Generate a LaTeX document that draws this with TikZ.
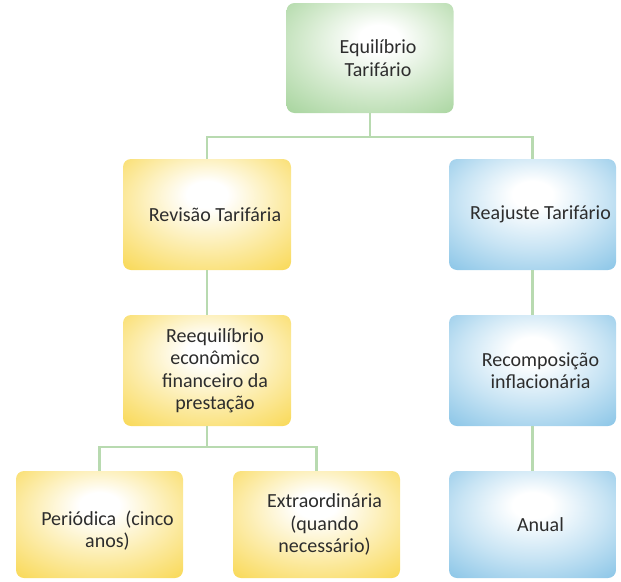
\documentclass[tikz,border=0pt]{standalone}
\usepackage{fontspec}
\setmainfont{Carlito}
\definecolor{ylwc}{RGB}{248,212,66}
\definecolor{ylwm}{RGB}{252,236,170}
\definecolor{grnc}{RGB}{158,208,148}
\definecolor{grnm}{RGB}{212,234,206}
\definecolor{bluc}{RGB}{124,190,228}
\definecolor{blum}{RGB}{200,228,244}
\definecolor{linec}{RGB}{184,218,176}
\definecolor{txtc}{RGB}{45,45,45}
\pgfdeclareradialshading{ylwshade}{\pgfpoint{0bp}{10bp}}{color(0bp)=(white); color(6bp)=(white); color(22bp)=(ylwm); color(42bp)=(ylwc); color(60bp)=(ylwc)}
\pgfdeclareradialshading{grnshade}{\pgfpoint{3bp}{10bp}}{color(0bp)=(white); color(6bp)=(white); color(22bp)=(grnm); color(42bp)=(grnc); color(60bp)=(grnc)}
\pgfdeclareradialshading{blushade}{\pgfpoint{0bp}{10bp}}{color(0bp)=(white); color(6bp)=(white); color(22bp)=(blum); color(42bp)=(bluc); color(60bp)=(bluc)}
\tikzset{
  box/.style={rectangle, rounded corners=8pt, draw=none, minimum width=167pt, minimum height=110pt, inner sep=0pt},
  ybox/.style={box, shading=ylwshade},
  gbox/.style={box, shading=grnshade},
  bbox/.style={box, shading=blushade},
  txt/.style={xshift=8pt, align=center, text=txtc, font=\fontsize{20}{22.5}\selectfont},
  conn/.style={draw=linec, line width=2.5pt}
}
\begin{document}
\begin{tikzpicture}[x=1pt,y=-1pt]
\useasboundingbox (0,0) rectangle (621,581);
\node[gbox] (top) at (370,58) {};
\node[ybox, minimum width=168pt, minimum height=111pt] (rev) at (207,214.5) {};
\node[bbox, minimum height=111pt] (rea) at (532.5,214.5) {};
\node[ybox, minimum width=168pt, minimum height=111pt] (reeq) at (207,370.5) {};
\node[bbox, minimum height=111pt] (rec) at (532.5,370.5) {};
\node[ybox, minimum height=107pt] (per) at (99.5,524.5) {};
\node[ybox, minimum height=107pt] (ext) at (316.5,524.5) {};
\node[bbox, minimum height=107pt] (anu) at (532.5,524.5) {};

\node[txt] (ttop) at (top.center) {Equilíbrio\\Tarifário};
\node[txt] (trev) at (rev.center) {Revisão Tarifária};
\node[txt] (trea) at (rea.center) {Reajuste Tarifário};
\node[txt] (treeq) at (reeq.center) {Reequilíbrio\\econômico\\financeiro da\\prestação};
\node[txt] (trec) at (rec.center) {Recomposição\\inflacionária};
\node[txt, yshift=-6pt] (tper) at (per.center) {Periódica\ \ (cinco\\anos)};
\node[txt] (text) at (ext.center) {Extraordinária\\(quando\\necessário)};
\node[txt] (tanu) at (anu.center) {Anual};

\coordinate (j1) at (370,137);
\coordinate (j2) at (207,447);
\draw[conn] (top.south) -- (j1);
\draw[conn] (rev.north) |- (j1) -| (rea.north);
\draw[conn] (rev.south) -- (reeq.north);
\draw[conn] (rea.south) -- (rec.north);
\draw[conn] (reeq.south) -- (j2);
\draw[conn] (per.north) |- (j2) -| (ext.north);
\draw[conn] (rec.south) -- (anu.north);
\end{tikzpicture}
\end{document}
